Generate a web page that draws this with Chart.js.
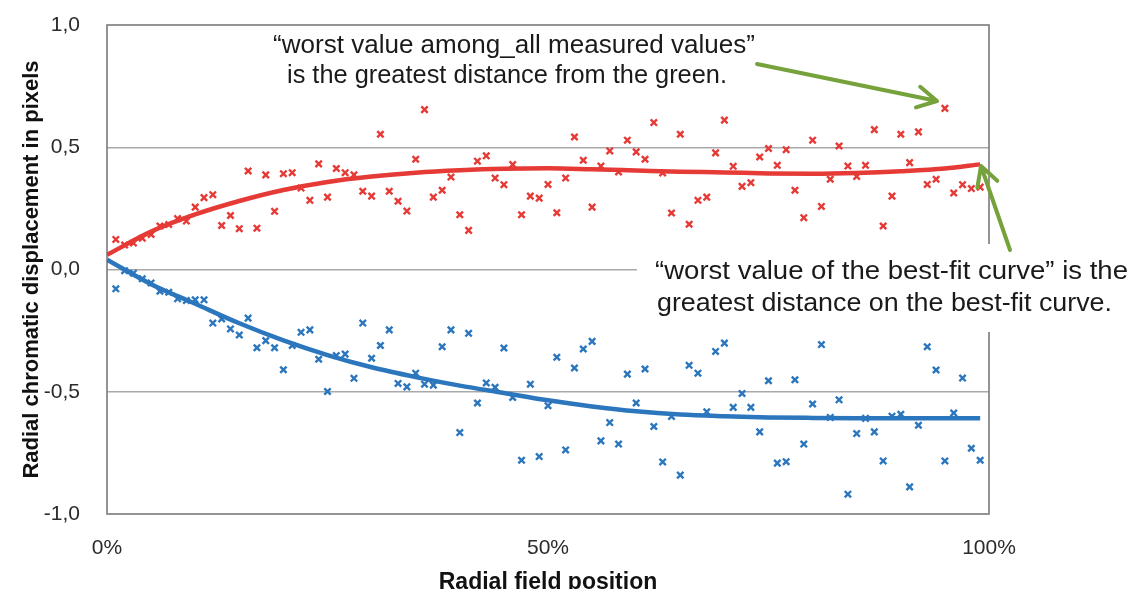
<!DOCTYPE html>
<html>
<head>
<meta charset="utf-8">
<script src="https://cdn.jsdelivr.net/npm/chart.js@4.4.1/dist/chart.umd.min.js"></script>
<style>
  html, body { margin: 0; padding: 0; background: #fff; overflow: hidden; }
  #wrap { width: 1132px; height: 589px; overflow: hidden; position: relative; }
</style>
</head>
<body>
<div id="wrap"><canvas id="chart" width="1132" height="600"></canvas></div>
<script>
// radial field position (%) of each measured point
const fieldPos = [
   1,  2,  3,  4,  5,  6,  7,  8,  9, 10, 11, 12, 13, 14, 15, 16, 17, 18, 19, 20,
  21, 22, 23, 24, 25, 26, 27, 28, 29, 30, 31, 32, 33, 34, 35, 36, 37, 38, 39, 40,
  41, 42, 43, 44, 45, 46, 47, 48, 49, 50, 51, 52, 53, 54, 55, 56, 57, 58, 59, 60,
  61, 62, 63, 64, 65, 66, 67, 68, 69, 70, 71, 72, 73, 74, 75, 76, 77, 78, 79, 80,
  81, 82, 83, 84, 85, 86, 87, 88, 89, 90, 91, 92, 93, 94, 95, 96, 97, 98, 99
];

// measured displacement, red channel
const redMeasured = [
  0.123, 0.100, 0.108, 0.128, 0.143, 0.178, 0.184, 0.208, 0.198, 0.255,
  0.294, 0.306, 0.180, 0.221, 0.167, 0.403, 0.169, 0.387, 0.238, 0.392,
  0.396, 0.333, 0.283, 0.432, 0.296, 0.413, 0.396, 0.387, 0.320, 0.300,
  0.553, 0.320, 0.279, 0.239, 0.451, 0.654, 0.296, 0.324, 0.378, 0.224,
  0.160, 0.443, 0.465, 0.374, 0.347, 0.429, 0.224, 0.300, 0.292, 0.348,
  0.232, 0.374, 0.542, 0.447, 0.255, 0.423, 0.485, 0.399, 0.529, 0.481,
  0.451, 0.601, 0.395, 0.231, 0.553, 0.185, 0.283, 0.296, 0.477, 0.611,
  0.422, 0.340, 0.355, 0.460, 0.495, 0.426, 0.490, 0.324, 0.212, 0.529,
  0.258, 0.369, 0.505, 0.423, 0.381, 0.426, 0.572, 0.178, 0.300, 0.553,
  0.437, 0.563, 0.348, 0.369, 0.659, 0.313, 0.347, 0.331, 0.337
];

// measured displacement, blue channel
const blueMeasured = [
  -0.079, -0.005, -0.015, -0.038, -0.055, -0.089, -0.093, -0.120, -0.127, -0.124,
  -0.124, -0.219, -0.202, -0.243, -0.268, -0.199, -0.320, -0.291, -0.320, -0.410,
  -0.311, -0.257, -0.247, -0.367, -0.499, -0.352, -0.346, -0.445, -0.219, -0.363,
  -0.311, -0.247, -0.466, -0.480, -0.424, -0.469, -0.473, -0.316, -0.247, -0.667,
  -0.261, -0.546, -0.464, -0.482, -0.321, -0.523, -0.780, -0.469, -0.765, -0.557,
  -0.359, -0.738, -0.403, -0.325, -0.294, -0.701, -0.626, -0.714, -0.428, -0.546,
  -0.407, -0.642, -0.787, -0.601, -0.841, -0.392, -0.424, -0.582, -0.335, -0.301,
  -0.564, -0.507, -0.564, -0.664, -0.455, -0.792, -0.786, -0.451, -0.714, -0.550,
  -0.307, -0.605, -0.533, -0.919, -0.671, -0.609, -0.664, -0.783, -0.600, -0.592,
  -0.889, -0.637, -0.316, -0.411, -0.783, -0.587, -0.444, -0.731, -0.780
];

// best-fit curves
const fitPos  = [0, 5, 10, 15, 20, 25, 30, 35, 40, 45, 50, 55, 60, 65, 70, 75, 80, 85, 90, 95, 99];
const redFit  = [0.060, 0.155, 0.225, 0.280, 0.325, 0.358, 0.380, 0.396, 0.406, 0.412, 0.414, 0.410,
                 0.405, 0.400, 0.397, 0.393, 0.392, 0.395, 0.402, 0.413, 0.430];
const blueFit = [0.040, -0.060, -0.140, -0.220, -0.290, -0.350, -0.400, -0.440, -0.475, -0.505, -0.535,
                 -0.560, -0.580, -0.593, -0.600, -0.605, -0.607, -0.608, -0.608, -0.608, -0.608];

const xTicks = [0, 50, 100];
const yTicks = [-1, -0.5, 0, 0.5, 1];

const yTitle = 'Radial chromatic displacement in pixels';
const xTitle = 'Radial field position';
const note1 = ['\u201Cworst value among_all measured values\u201D', 'is the greatest distance from the green.'];
const note2 = ['\u201Cworst value of the best-fit curve\u201D is the', 'greatest distance on the best-fit curve.'];

const RED = '#e53a36';
const BLUE = '#2b76bd';
const GREEN = '#76a23c';
const FONT = "'Liberation Sans', Arial, sans-serif";

const pts = (xs, ys) => xs.map((x, i) => ({ x: x, y: ys[i] }));

// draws a line of text stretched to a given width
function fitText(ctx, text, x, y, size, width) {
    ctx.save();
    ctx.font = size + 'px ' + FONT;
    const w = ctx.measureText(text).width;
    ctx.translate(x, y);
    ctx.scale(width / w, 1);
    ctx.textAlign = 'left';
    ctx.textBaseline = 'middle';
    ctx.fillStyle = '#1a1a1a';
    ctx.fillText(text, 0, 0);
    ctx.restore();
}

function arrow(ctx, x0, y0, x1, y1) {
    const a = Math.atan2(y1 - y0, x1 - x0);
    const h = 22;
    ctx.save();
    ctx.strokeStyle = GREEN;
    ctx.lineWidth = 4;
    ctx.lineCap = 'round';
    ctx.lineJoin = 'round';
    ctx.beginPath();
    ctx.moveTo(x0, y0);
    ctx.lineTo(x1, y1);
    ctx.moveTo(x1 - h * Math.cos(a - 0.5), y1 - h * Math.sin(a - 0.5));
    ctx.lineTo(x1, y1);
    ctx.lineTo(x1 - h * Math.cos(a + 0.5), y1 - h * Math.sin(a + 0.5));
    ctx.stroke();
    ctx.restore();
}

const framePlugin = {
    id: 'frame',
    beforeDatasetsDraw(chart) {
        const { ctx, chartArea: a } = chart;
        ctx.save();
        ctx.strokeStyle = '#7a7a7a';
        ctx.lineWidth = 1.6;
        ctx.strokeRect(a.left, a.top, a.right - a.left, a.bottom - a.top);
        // white box behind the second note
        ctx.fillStyle = '#fff';
        ctx.fillRect(637, 244, 495, 88);
        ctx.restore();
    },
    afterDraw(chart) {
        const ctx = chart.ctx;
        fitText(ctx, note1[0], 273, 46, 26, 482);
        fitText(ctx, note1[1], 287, 76, 26, 440);
        fitText(ctx, note2[0], 655, 272, 25, 473);
        fitText(ctx, note2[1], 657, 304, 25, 455);
        arrow(ctx, 757, 64, 937, 101);
        arrow(ctx, 1010, 250, 981, 166);
    }
};

new Chart(document.getElementById('chart'), {
    type: 'scatter',
    data: {
        datasets: [
            {
                label: 'red fit',
                type: 'line',
                data: pts(fitPos, redFit),
                borderColor: RED,
                borderWidth: 4.5,
                pointRadius: 0,
                cubicInterpolationMode: 'monotone',
                fill: false
            },
            {
                label: 'blue fit',
                type: 'line',
                data: pts(fitPos, blueFit),
                borderColor: BLUE,
                borderWidth: 4.5,
                pointRadius: 0,
                cubicInterpolationMode: 'monotone',
                fill: false
            },
            {
                label: 'red',
                data: pts(fieldPos, redMeasured),
                pointStyle: 'crossRot',
                pointRadius: 4.5,
                borderColor: RED,
                borderWidth: 2.4
            },
            {
                label: 'blue',
                data: pts(fieldPos, blueMeasured),
                pointStyle: 'crossRot',
                pointRadius: 4.5,
                borderColor: BLUE,
                borderWidth: 2.4
            }
        ]
    },
    options: {
        responsive: false,
        animation: false,
        events: [],
        layout: { padding: { left: 0, right: 143, top: 25, bottom: 0 } },
        plugins: {
            legend: { display: false },
            tooltip: { enabled: false }
        },
        scales: {
            x: {
                type: 'linear',
                min: 0,
                max: 100,
                afterBuildTicks: s => { s.ticks = xTicks.map(v => ({ value: v })); },
                afterFit: s => { s.height = 86; },
                grid: { display: false, drawTicks: false },
                border: { display: false },
                ticks: {
                    padding: 22,
                    maxRotation: 0,
                    color: '#2b2b2b',
                    font: { family: FONT, size: 21 },
                    callback: v => v + '%'
                },
                title: {
                    display: true,
                    text: xTitle,
                    color: '#111',
                    font: { family: FONT, size: 23, weight: 'bold' },
                    padding: { top: 0, bottom: 4 }
                }
            },
            y: {
                min: -1,
                max: 1,
                afterBuildTicks: s => { s.ticks = yTicks.map(v => ({ value: v })); },
                afterFit: s => {
                    s.width = 107;
                    s.paddingTop = 0;
                    s.paddingBottom = 0;
                },
                grid: {
                    drawTicks: false,
                    lineWidth: 1.5,
                    color: c => (Math.abs(c.tick.value) < 0.9 ? '#a9a9a9' : 'rgba(0,0,0,0)')
                },
                border: { display: false },
                ticks: {
                    padding: 27,
                    color: '#2b2b2b',
                    font: { family: FONT, size: 21 },
                    callback: v => v.toFixed(1).replace('.', ',')
                },
                title: {
                    display: true,
                    text: yTitle,
                    color: '#111',
                    font: { family: FONT, size: 22, weight: 'bold' },
                    padding: { top: 19, bottom: 0 }
                }
            }
        }
    },
    plugins: [framePlugin]
});
</script>
</body>
</html>
